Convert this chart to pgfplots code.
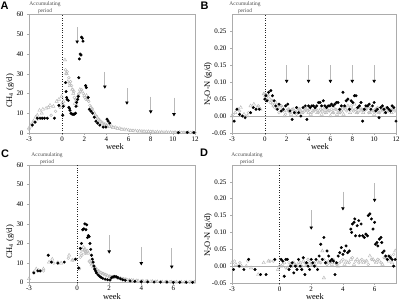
\documentclass[border=0pt]{standalone}
\usepackage{fontspec}
\setmainfont{Liberation Serif}
\newfontfamily\lettersf{Liberation Sans}
\usepackage{pgfplots}
\pgfplotsset{compat=1.18}
\usetikzlibrary{arrows.meta}

\pgfplotsset{
  panel/.style={
    scale only axis, anchor=south west, clip=false,
    axis line style={draw=gray!65, line width=0.6pt},
    tick style={draw=gray!65, line width=0.5pt},
    major tick length=2bp, tick align=outside,
    xtick pos=bottom, ytick pos=left,
    ticklabel style={font=\fontsize{7}{8}\selectfont, text=black},
    xticklabel style={yshift=2bp},
    /pgf/number format/assume math mode=true,
  },
  nopanel/.style={panel, ymin=-0.05, ymax=0.30, ytick={-0.05,0,0.05,...,0.30},
    scaled y ticks=false,
    yticklabel style={/pgf/number format/.cd, fixed, fixed zerofill, precision=2}},
  fc/.style={only marks, mark=*, mark size=1.35bp, mark options={draw=black, fill=black, line width=0.3pt}},
  ot/.style={only marks, mark=triangle, mark size=1.9bp, mark options={draw=gray!55, line width=0.45pt}},
  oc/.style={only marks, mark=o, mark size=1.4bp, mark options={draw=gray!55, line width=0.45pt}},
}
\tikzset{arr/.style={draw=gray!55, line width=0.7pt, -{Triangle[color=black, length=3.2bp, width=3.4bp]}},
  zl/.style={black!85, dotted, line width=0.45pt},
  acc/.style={font=\fontsize{5.5}{6.5}\selectfont, text=black!70, align=center},
  ylab/.style={rotate=90, font=\fontsize{8.5}{9}\selectfont},
  xlab/.style={font=\fontsize{8.5}{9}\selectfont},
  let/.style={anchor=north west, inner sep=0pt, font=\lettersf\bfseries\fontsize{11}{11}\selectfont}}

\begin{document}
\begin{tikzpicture}
% ---------------- Panel A ----------------
\begin{axis}[panel, at={(29bp,-133bp)}, width=166bp, height=118.5bp,
  xmin=-3, xmax=12, ymin=0, ymax=60, xtick={-3,0,2,4,6,8,10,12}, ytick={0,10,...,60}]
\draw[zl] (axis cs:0,0) -- (axis cs:0,60);
\addplot[ot] table {
-3.0 2.5
-2.85 3.5
-2.6 6
-2.4 8
-2.25 9
-2.05 11.5
-1.85 10
-1.75 12
-1.45 12.5
-1.25 13
-1.1 14
-0.8 13.5
-0.5 16
-0.3 17
-0.05 18.5
0.1 16
0.25 37
0.4 30
0.5 26
0.7 24
0.9 22
1.0 20
1.15 15
1.3 14
1.45 19
1.6 22
1.8 21
2.0 19
2.2 19
2.3 17
2.6 13
2.8 11
3.0 9
3.2 7.5
3.4 6
3.6 5
3.8 4.3
4.0 3.8
4.3 3.2
4.6 2.7
5.0 2.2
5.4 1.8
5.8 1.5
6.2 1.2
6.6 1.0
7.0 0.9
7.4 0.8
7.8 0.7
8.2 0.6
8.6 0.5
9.0 0.4
9.4 0.4
9.8 0.3
10.2 0.3
10.6 0.3
11.0 0.2
11.4 0.2
11.8 0.2
};
\addplot[oc] table {
-3.0 2
-2.75 4.5
-2.5 5.5
-2.2 7
-1.9 7.5
-1.0 9
-0.6 11
-0.2 13
0.0 15
0.15 14
0.3 32
0.35 30
0.45 31
0.6 28
0.65 25
0.75 26
0.85 24
0.95 22
1.05 21
1.1 18
1.2 17
1.35 17
1.5 20
1.65 21
1.75 22
1.9 20
2.05 18
2.15 17
2.4 16
2.5 14
2.7 12.5
2.9 10
3.1 8.5
3.3 7
3.5 6
3.7 5
3.9 4.5
4.15 4
4.45 3.5
4.8 3
5.2 2.5
5.6 2.0
6.0 1.6
6.4 1.3
6.8 1.1
7.2 1.0
7.6 0.9
8.0 0.8
8.4 0.6
8.8 0.5
9.2 0.5
9.6 0.4
10.0 0.4
10.4 0.3
10.8 0.3
11.2 0.3
11.6 0.3
12.0 0.2
};
\addplot[fc] table {
-2.7 4
-2.45 5.5
-2.25 7.5
-2.0 7.5
-1.8 7.5
-1.6 7.5
-1.35 7.5
-0.7 7.5
-0.3 14
0.05 9
0.1 13.5
0.3 25.5
0.35 21
0.4 18
0.45 17
0.55 16.5
0.6 13
0.65 12.5
0.7 11.5
0.8 10
0.9 9.5
1.0 9.5
1.1 9.5
1.2 10
1.25 13.5
1.3 15.5
1.4 17
1.45 18.5
1.5 28
1.55 37.5
1.62 40
1.7 39.5
1.75 48.5
1.82 48
1.88 46.5
2.12 24
2.18 23
2.35 18
2.45 12
2.6 11
2.75 10
2.9 8
3.05 6
3.2 5
3.4 4
3.7 3
3.95 3
4.05 7
4.15 6
4.3 5
10.5 0.2
11.3 0.3
11.9 0.2
};
\draw[arr] (axis cs:1.35,53.5) -- (axis cs:1.35,45.2);
\draw[arr] (axis cs:3.85,31) -- (axis cs:3.85,22.4);
\draw[arr] (axis cs:5.85,22.6) -- (axis cs:5.85,14.3);
\draw[arr] (axis cs:8.0,18.4) -- (axis cs:8.0,9.8);
\draw[arr] (axis cs:10.1,17.9) -- (axis cs:10.1,8.4);
\end{axis}

% ---------------- Panel B ----------------
\begin{axis}[nopanel, at={(232bp,-133bp)}, width=164bp, height=118.7bp,
  xmin=-3, xmax=12, xtick={-3,0,2,4,6,8,10,12}]
\draw[gray!65, line width=0.6pt] (axis cs:-3,0) -- (axis cs:12,0);
\draw[zl] (axis cs:0,-0.05) -- (axis cs:0,0.30);
\addplot[ot] table {
-3.0 0.0
-2.7 0.01
-2.45 0.02
-2.2 0.025
-1.9 0.005
-1.6 0.0
-1.3 0.03
-1.0 0.035
-0.7 0.025
-0.4 0.02
-0.1 0.065
0.05 0.06
0.25 0.065
0.45 0.05
0.65 0.045
0.8 0.03
1.0 0.04
1.2 0.025
1.4 0.03
1.6 0.025
1.8 0.0
2.0 0.015
2.2 0.02
2.4 0.005
2.6 0.02
2.8 0.01
3.0 0.015
3.2 0.02
3.4 0.01
3.6 0.015
3.8 0.02
4.0 0.01
4.2 0.005
4.4 0.015
4.6 0.02
4.8 0.01
5.0 0.015
5.2 0.005
5.4 0.02
5.6 0.01
5.8 0.015
6.0 0.0
6.2 0.01
6.4 0.02
6.6 0.005
6.8 0.01
7.0 0.015
7.2 0.005
7.4 0.02
7.6 0.03
7.8 0.01
8.0 0.02
8.2 0.035
8.4 0.01
8.6 0.02
8.8 0.015
9.0 0.01
9.2 0.02
9.4 0.025
9.6 0.01
9.8 0.015
10.0 0.005
10.2 0.02
10.4 0.01
10.6 0.015
10.8 0.02
11.0 0.01
11.2 0.02
11.4 0.015
11.6 0.01
11.8 0.02
};
\addplot[oc] table {
-2.9 0.005
-2.3 0.015
-1.5 0.01
-0.6 0.03
0.0 0.065
0.15 0.055
0.3 0.06
0.5 0.04
0.7 0.035
0.9 0.025
1.1 0.02
1.3 0.01
1.5 0.03
1.7 0.015
1.9 0.005
2.1 0.02
2.3 0.01
2.5 0.02
2.7 0.015
2.9 0.005
3.1 0.02
3.3 0.015
3.5 0.01
3.7 0.02
3.9 0.015
4.1 0.02
4.3 0.01
4.5 0.015
4.7 0.02
4.9 0.01
5.1 0.02
5.3 0.015
5.5 0.01
5.7 0.02
5.9 0.015
6.1 0.02
6.3 0.01
6.5 0.02
6.7 0.015
6.9 0.01
7.1 0.02
7.3 0.025
7.5 0.015
7.7 0.02
7.9 0.03
8.1 0.015
8.3 0.02
8.5 0.01
8.7 0.025
8.9 0.02
9.1 0.015
9.3 0.02
9.5 0.01
9.7 0.025
9.9 0.015
10.1 0.02
10.3 0.025
10.5 0.01
10.7 0.02
10.9 0.015
11.1 0.025
11.3 0.015
11.5 0.02
11.7 0.02
11.9 0.015
};
\addplot[fc] table {
-2.8 -0.015
-2.55 0.02
-2.3 0.005
-2.05 0.00
-1.8 -0.005
-1.3 0.01
-1.05 0.025
-0.8 0.02
-0.5 0.02
0.0 0.05
0.1 0.06
0.2 0.045
0.35 0.07
0.55 0.075
0.7 0.06
0.85 0.045
1.0 0.03
1.15 0.02
1.3 0.035
1.5 0.015
1.7 0.02
1.9 0.03
2.1 0.035
2.3 0.015
2.5 -0.01
2.7 0.01
2.9 0.025
3.1 0.01
3.3 0.0
3.5 0.025
3.7 0.03
3.85 -0.01
4.0 0.03
4.15 0.025
4.3 0.03
4.45 0.03
4.6 0.025
4.75 0.03
4.9 0.04
5.05 0.04
5.2 0.03
5.35 0.045
5.5 0.03
5.65 0.025
5.8 0.03
5.95 0.03
6.1 0.035
6.25 0.03
6.4 0.035
6.55 0.04
6.7 0.04
6.85 0.02
7.0 0.03
7.15 0.07
7.3 0.03
7.45 0.045
7.6 0.05
7.75 0.02
7.9 0.045
8.05 0.04
8.2 0.06
8.35 0.06
8.5 0.025
8.65 0.03
8.8 0.04
8.95 -0.015
9.1 0.02
9.25 0.03
9.4 0.03
9.55 0.035
9.7 0.02
9.85 0.03
10.0 0.04
10.15 0.015
10.3 0.02
10.45 -0.005
10.6 0.025
10.75 0.03
10.9 0.02
11.05 0.01
11.2 0.025
11.35 0.02
11.5 0.015
11.65 0.03
11.8 0.025
12.0 -0.015
};
\draw[arr] (axis cs:2,0.15) -- (axis cs:2,0.097);
\draw[arr] (axis cs:4,0.15) -- (axis cs:4,0.097);
\draw[arr] (axis cs:6,0.15) -- (axis cs:6,0.097);
\draw[arr] (axis cs:8,0.15) -- (axis cs:8,0.097);
\draw[arr] (axis cs:10,0.15) -- (axis cs:10,0.097);
\end{axis}

% ---------------- Panel C ----------------
\begin{axis}[panel, at={(29bp,-282.7bp)}, width=166bp, height=117.7bp,
  xmin=-3, xmax=7.35, ymin=0, ymax=60, xtick={-3,0,2,4,6}, ytick={0,10,...,60}]
\draw[zl] (axis cs:0,0) -- (axis cs:0,60);
\addplot[ot] table {
-3.0 2
-2.55 7
-2.1 7
-1.75 10.5
-1.55 12
-1.0 10
-0.5 14
-0.3 11.5
0.25 15
0.32 17
0.4 18
0.45 16.5
0.5 17
0.55 16
0.6 15
0.65 16
0.7 15
0.8 11
0.9 9
1.0 8
1.1 7
1.2 6
1.3 5.5
1.45 5
1.6 4.5
1.75 4
1.9 3.5
2.05 3
2.2 2.6
2.4 2.6
2.6 2.2
2.8 1.9
3.0 1.6
3.25 1.3
3.5 1.1
3.8 0.9
4.1 0.8
4.4 0.7
4.7 0.6
5.0 0.5
5.3 0.4
5.6 0.4
5.9 0.3
6.2 0.3
6.5 0.3
6.8 0.3
7.1 0.3
7.3 0.3
};
\addplot[oc] table {
-2.7 5.5
-2.4 6.5
-2.1 6
-1.45 10
-1.2 10.5
-0.55 12.5
-0.25 11.5
0.15 7
0.2 13
0.3 14
0.5 15
0.75 11
0.85 10
0.95 9.5
1.05 8.5
1.15 7.5
1.25 6.5
1.35 6
1.5 5.2
1.65 4.6
1.8 4
2.0 3.4
2.15 3
2.3 3.2
2.5 2.8
2.7 2.4
2.9 2
3.1 1.7
3.4 1.4
3.7 1.2
4.0 1.0
4.3 0.9
4.6 0.8
4.9 0.7
5.2 0.6
5.5 0.5
5.8 0.5
6.1 0.4
6.4 0.4
6.7 0.4
7.0 0.4
7.3 0.4
};
\addplot[fc] table {
-2.7 5
-2.45 6
-2.3 6
-1.8 14
-1.6 10.5
-1.2 10
-0.8 10.5
-0.1 12
0.1 7.5
0.2 17.5
0.27 20
0.35 27
0.42 27.5
0.48 30
0.55 27
0.6 29.5
0.65 23
0.7 24
0.75 23.5
0.8 20
0.85 17
0.9 14
0.95 12
1.0 10.5
1.05 8.5
1.1 7
1.15 6
1.2 5
1.3 4
1.4 3.3
1.5 2.7
1.6 2.2
1.75 1.8
1.9 1.5
2.05 1.4
2.15 2.5
2.25 3
2.35 3.2
2.45 3
2.55 2.5
2.7 2
2.85 1.5
3.0 1.2
3.3 0.9
3.6 0.7
4.0 0.5
4.4 0.4
4.8 0.35
5.2 0.3
5.6 0.3
6.0 0.2
6.4 0.2
6.8 0.2
7.2 0.2
};
\draw[arr] (axis cs:2,24.3) -- (axis cs:2,14.8);
\draw[arr] (axis cs:4,18.3) -- (axis cs:4,8.8);
\draw[arr] (axis cs:5.9,17.5) -- (axis cs:5.9,7.1);
\end{axis}

% ---------------- Panel D ----------------
\begin{axis}[nopanel, at={(232bp,-283bp)}, width=164bp, height=118bp,
  xmin=-3, xmax=7.35, xtick={-3,0,2,4,6}]
\draw[gray!65, line width=0.6pt] (axis cs:-3,0) -- (axis cs:7.35,0);
\draw[zl] (axis cs:0,-0.05) -- (axis cs:0,0.30);
\addplot[ot] table {
-3.0 0.01
-2.75 0.005
-2.4 0.0
-2.1 0.0
-1.8 -0.005
-1.35 -0.025
-1.0 0.01
-0.7 0.015
-0.1 -0.01
0.1 0.0
0.3 0.01
0.5 -0.005
0.7 0.005
0.9 0.01
1.1 0.0
1.3 0.01
1.5 0.015
1.7 0.005
1.9 0.01
2.1 0.005
2.3 0.0
2.5 0.01
2.7 0.045
2.8 -0.035
2.95 0.01
3.1 0.015
3.3 0.005
3.5 0.01
3.7 0.0
3.9 0.015
4.1 0.005
4.3 0.01
4.5 0.02
4.7 0.005
4.9 0.02
5.1 0.015
5.3 0.01
5.5 0.015
5.7 0.03
5.9 0.02
6.1 0.01
6.3 0.015
6.5 0.005
6.7 0.025
6.9 0.015
7.1 0.01
7.3 0.045
};
\addplot[oc] table {
-2.85 0.015
-2.5 0.01
-2.0 0.015
-0.6 0.015
-0.4 0.015
0.0 0.0
0.2 0.005
0.4 -0.005
0.6 0.01
0.8 0.0
1.0 0.005
1.2 0.01
1.4 0.0
1.6 0.01
1.8 0.02
2.0 0.005
2.2 0.01
2.4 0.015
2.6 0.01
2.8 0.02
3.0 0.005
3.2 0.01
3.4 0.02
3.6 0.005
3.8 0.01
4.0 0.02
4.2 0.015
4.4 0.01
4.6 0.025
4.8 0.015
5.0 0.01
5.2 0.02
5.4 0.015
5.6 0.005
5.8 0.02
6.0 0.015
6.2 0.02
6.4 0.01
6.6 0.025
6.8 0.02
7.0 0.03
7.2 0.035
};
\addplot[fc] table {
-2.9 -0.01
-2.55 0.0
-2.25 -0.01
-1.95 0.02
-1.55 -0.01
-1.2 -0.025
-0.85 -0.025
-0.3 0.02
0.1 0.02
0.2 0.015
0.3 -0.03
0.4 0.02
0.5 0.02
0.6 -0.01
0.7 0.0
0.8 0.01
0.9 -0.02
1.0 0.0
1.1 -0.01
1.2 0.02
1.3 0.0
1.4 -0.01
1.5 0.025
1.6 -0.025
1.7 0.01
1.8 0.0
1.9 -0.01
2.0 0.02
2.1 0.01
2.2 0.0
2.3 0.02
2.4 -0.01
2.5 0.03
2.6 0.065
2.7 0.02
2.8 0.085
2.9 0.01
3.0 0.045
3.1 0.03
3.2 0.015
3.3 0.02
3.4 0.015
3.5 -0.025
3.6 0.01
3.7 0.03
3.8 0.04
3.9 0.055
4.0 0.035
4.1 0.045
4.2 0.06
4.3 0.04
4.4 0.045
4.5 0.11
4.55 0.10
4.6 0.125
4.7 0.13
4.75 0.14
4.8 0.09
4.9 0.12
5.0 0.135
5.05 0.09
5.15 0.125
5.25 0.09
5.35 0.085
5.45 0.095
5.55 0.09
5.6 0.15
5.7 0.155
5.8 0.14
5.9 0.11
6.0 0.13
6.05 0.065
6.15 0.07
6.2 0.06
6.3 0.08
6.4 0.085
6.45 0.07
6.5 0.04
6.6 0.045
6.7 0.03
6.8 0.02
6.9 0.03
7.0 0.025
7.1 0.02
7.2 0.0
7.3 0.02
};
\draw[arr] (axis cs:2,0.166) -- (axis cs:2,0.108);
\draw[arr] (axis cs:4,0.221) -- (axis cs:4,0.165);
\draw[arr] (axis cs:6,0.246) -- (axis cs:6,0.190);
\end{axis}

% ---------------- labels ----------------
\node[let] at (0.5bp,-1.5bp) {A};
\node[let] at (200.5bp,-1.5bp) {B};
\node[let] at (1bp,-149.5bp) {C};
\node[let] at (200bp,-148.5bp) {D};
\node[acc] at (45bp,-7.5bp) {Accumulating\\period};
\node[acc] at (245bp,-7.5bp) {Accumulating\\period};
\node[acc] at (47bp,-158.5bp) {Accumulating\\period};
\node[acc] at (247bp,-158.5bp) {Accumulating\\period};
\node[ylab] at (10bp,-91bp) {CH\textsubscript{4} (g/d)};
\node[ylab] at (208bp,-84bp) {N\textsubscript{2}O-N (g/d)};
\node[ylab] at (10bp,-242bp) {CH\textsubscript{4} (g/d)};
\node[ylab] at (208bp,-235bp) {N\textsubscript{2}O-N (g/d)};
\node[xlab] at (115bp,-147bp) {week};
\node[xlab] at (320bp,-147bp) {week};
\node[xlab] at (112bp,-296.5bp) {week};
\node[xlab] at (315bp,-296.5bp) {week};

\pgfresetboundingbox
\useasboundingbox (0bp,0bp) rectangle (400bp,-301bp);
\end{tikzpicture}
\end{document}
